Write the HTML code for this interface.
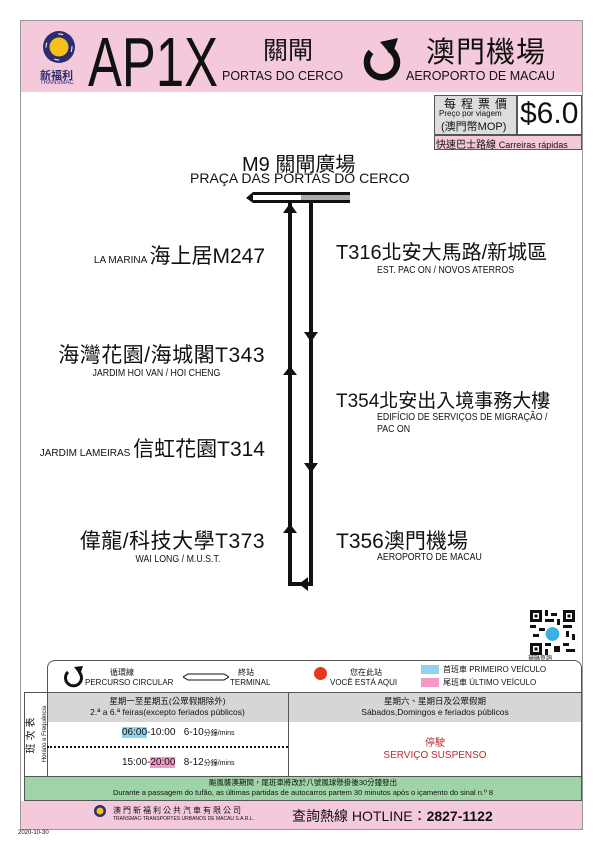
<!DOCTYPE html><html><head><meta charset="utf-8"><style>
body{margin:0;width:602px;height:852px;background:#fff;position:relative;overflow:hidden;font-family:"Liberation Sans","Noto Sans CJK TC",sans-serif;color:#111}
.a{position:absolute;white-space:nowrap}
.st{font-size:21px;line-height:24px}
.en{font-size:10px;line-height:11px;transform:scaleX(.88);transform-origin:left}
.enr{font-size:10px;line-height:11px;transform:scaleX(.88);transform-origin:right;text-align:right}
</style></head><body>
<div class="a" style="left:20px;top:20px;width:563px;height:810px;border:1px solid #999;box-sizing:border-box"></div>
<div class="a" style="left:21px;top:21px;width:561px;height:71px;background:#f5c9dc"></div>
<svg class="a" style="left:42px;top:30px" width="34" height="34"><circle cx="17" cy="17" r="16" fill="#2b2d6e"/><circle cx="17" cy="17" r="9.5" fill="#f5c01a"/><circle cx="17" cy="17" r="13" fill="none" stroke="#fff" stroke-width="1" stroke-dasharray="5 15"/></svg>
<div class="a" style="left:40px;top:67px;font-size:11px;font-weight:bold;color:#2b2d6e">新福利</div>
<div class="a" style="left:40px;top:80px;font-size:6px;color:#2b2d6e">TRANSMAC</div>
<svg class="a" style="left:80px;top:22px" width="150" height="70"><text x="8" y="64" font-family="Liberation Sans, Arial, sans-serif" font-size="70" textLength="130" lengthAdjust="spacingAndGlyphs" fill="#111">AP1X</text></svg>
<div class="a" style="left:263px;top:31px;font-size:25px">關閘</div>
<div class="a" style="left:222px;top:69px;font-size:12.5px">PORTAS DO CERCO</div>
<svg class="a" style="left:358px;top:34px" width="46" height="52"><path d="M31 15 A15 15 0 1 1 13 18" fill="none" stroke="#111" stroke-width="6.5"/><path d="M22 8 L40 4 L34 22 Z" fill="#111"/></svg>
<div class="a" style="left:426px;top:29px;font-size:29px;letter-spacing:1px">澳門機場</div>
<div class="a" style="left:406px;top:69px;font-size:12.5px">AEROPORTO DE MACAU</div>
<div class="a" style="left:434px;top:95px;width:83px;height:40px;background:#ddd;border:1px solid #555;box-sizing:border-box"></div>
<div class="a" style="left:444px;top:95px;font-size:12px;letter-spacing:5px">每程票價</div>
<div class="a" style="left:439px;top:109px;font-size:8px">Preço por viagem</div>
<div class="a" style="left:441px;top:118px;font-size:11px">(澳門幣MOP)</div>
<div class="a" style="left:517px;top:95px;width:65px;height:40px;border:1px solid #555;box-sizing:border-box"></div>
<div class="a" style="left:520px;top:97px;font-size:30px">$6.0</div>
<div class="a" style="left:434px;top:135px;width:148px;height:15px;background:#f5c9dc;border:1px solid #555;box-sizing:border-box"></div>
<div class="a" style="left:436px;top:136px;font-size:10px">快速巴士路線 <span style="font-size:9px">Carreiras rápidas</span></div>

<div class="a" style="left:242px;top:148px;font-size:20px">M9 關閘廣場</div>
<div class="a" style="left:190px;top:170px;font-size:14px">PRAÇA DAS PORTAS DO CERCO</div>

<svg class="a" style="left:0;top:0" width="602" height="852">
<path d="M246 198 L253 192 L350 192 L350 203 L253 203 Z" fill="#111"/>
<rect x="253" y="195" width="48" height="5" fill="#fff"/><rect x="301" y="195" width="49" height="5" fill="#aaa"/>
<g fill="none" stroke="#111" stroke-width="4"><path d="M290 203 V584 H311 V203"/></g>
<g fill="#111">
<path d="M283 213 L290 203 L297 213 Z"/><path d="M283 375 L290 366 L297 375 Z"/><path d="M283 533 L290 524 L297 533 Z"/>
<path d="M304 332 L311 342 L318 332 Z"/><path d="M304 463 L311 473 L318 463 Z"/>
<path d="M308 577 L299 584 L308 591 Z"/>
</g></svg>

<div class="a st" style="right:337px;top:245px"><span style="font-size:10px">LA MARINA </span>海上居M247</div>
<div class="a st" style="left:336px;top:241px;font-size:20px">T316北安大馬路/新城區</div>
<div class="a en" style="left:377px;top:265px">EST. PAC ON / NOVOS ATERROS</div>
<div class="a st" style="right:337px;top:344px;letter-spacing:.5px">海灣花園/海城閣T343</div>
<div class="a enr" style="right:382px;top:368px">JARDIM HOI VAN / HOI CHENG</div>
<div class="a st" style="left:336px;top:390px;font-size:19px">T354北安出入境事務大樓</div>
<div class="a en" style="left:377px;top:412px;line-height:12px">EDIFÍCIO DE SERVIÇOS DE MIGRAÇÃO /<br>PAC ON</div>
<div class="a st" style="right:337px;top:438px"><span style="font-size:10px">JARDIM LAMEIRAS </span>信虹花園T314</div>
<div class="a st" style="right:337px;top:530px;letter-spacing:.5px">偉龍/科技大學T373</div>
<div class="a enr" style="right:382px;top:554px">WAI LONG / M.U.S.T.</div>
<div class="a st" style="left:336px;top:530px">T356澳門機場</div>
<div class="a en" style="left:377px;top:552px">AEROPORTO DE MACAU</div>

<svg class="a" style="left:530px;top:610px" width="45" height="45" viewBox="0 0 15 15"><rect width="15" height="15" fill="#fff"/><g fill="#111"><path d="M0 0h4v4h-4zM11 0h4v4h-4zM0 11h4v4h-4zM5 0h1v2h-1zM7 1h2v1h-2zM5 3h3v1h-3zM9 3h1v2h-1zM0 5h2v1h-2zM3 6h2v1h-2zM11 5h3v1h-3zM12 7h1v2h-1zM14 8h1v2h-1zM5 11h2v1h-2zM8 12h2v2h-2zM11 11h2v1h-2zM12 13h3v1h-3zM5 13h1v2h-1zM1 8h2v1h-2zM6 8h1v1h-1z"/></g><path d="M1 1h2v2h-2zM12 1h2v2h-2zM1 12h2v2h-2z" fill="#fff"/><path d="M1.5 1.5h1v1h-1zM12.5 1.5h1v1h-1zM1.5 12.5h1v1h-1z" fill="#111"/><circle cx="7.5" cy="8" r="2.3" fill="#3ab0e0"/></svg>
<div class="a" style="left:528px;top:653px;font-size:6px">掃碼查詢</div>

<div class="a" style="left:47px;top:660px;width:535px;height:40px;border:1px solid #555;border-bottom:none;border-radius:8px 8px 0 0;box-sizing:border-box"></div>
<svg class="a" style="left:62px;top:664px" width="24" height="26"><path d="M17 8 A8 8 0 1 1 6 8" fill="none" stroke="#111" stroke-width="3"/><path d="M12 3 L21 2 L18 11Z" fill="#111"/></svg>
<div class="a" style="left:110px;top:667px;font-size:8px">循環線</div>
<div class="a" style="left:85px;top:678px;font-size:8px">PERCURSO CIRCULAR</div>
<svg class="a" style="left:183px;top:673px" width="46" height="8"><path d="M0 4 L5 1 H41 L46 4 L41 7 H5 Z" fill="#fff" stroke="#111"/></svg>
<div class="a" style="left:238px;top:667px;font-size:8px">終站</div>
<div class="a" style="left:230px;top:678px;font-size:8px">TERMINAL</div>
<div class="a" style="left:314px;top:667px;width:13px;height:13px;border-radius:50%;background:#e5391f"></div>
<div class="a" style="left:350px;top:667px;font-size:8px">您在此站</div>
<div class="a" style="left:330px;top:678px;font-size:8px">VOCÊ ESTÁ AQUI</div>
<div class="a" style="left:421px;top:665px;width:18px;height:9px;background:#8fd3ef"></div>
<div class="a" style="left:443px;top:664px;font-size:8px">首班車 PRIMEIRO VEÍCULO</div>
<div class="a" style="left:421px;top:678px;width:18px;height:9px;background:#f19ac5"></div>
<div class="a" style="left:443px;top:677px;font-size:8px">尾班車 ÚLTIMO VEÍCULO</div>

<div class="a" style="left:24px;top:692px;width:558px;height:85px;border:1px solid #555;box-sizing:border-box"></div>
<div class="a" style="left:47px;top:693px;width:534px;height:29px;background:#d6d6d6"></div>
<div class="a" style="left:47px;top:692px;width:1px;height:85px;background:#555"></div>
<div class="a" style="left:288px;top:692px;width:1px;height:85px;background:#555"></div>
<div class="a" style="left:-5px;top:724px;width:80px;height:20px;transform:rotate(-90deg);text-align:center;line-height:10px"><span style="font-size:10px;letter-spacing:3px">班次表</span><br><span style="font-size:6px">Horário e Frequência</span></div>
<div class="a" style="left:47px;top:696px;width:241px;text-align:center;font-size:8.5px;line-height:11px">星期一至星期五(公眾假期除外)<br>2.ª a 6.ª feiras(excepto feriados públicos)</div>
<div class="a" style="left:289px;top:696px;width:292px;text-align:center;font-size:8.5px;line-height:11px">星期六、星期日及公眾假期<br>Sábados,Domingos e feriados públicos</div>
<div class="a" style="left:122px;top:727px;font-size:10px"><span style="background:#8fd3ef">06:00</span>-10:00 &nbsp; 6-10<span style="font-size:7px">分鐘/mins</span></div>
<div class="a" style="left:47px;top:746px;width:241px;border-top:2px dotted #111"></div>
<div class="a" style="left:122px;top:757px;font-size:10px">15:00-<span style="background:#f19ac5">20:00</span> &nbsp; 8-12<span style="font-size:7px">分鐘/mins</span></div>
<div class="a" style="left:289px;top:738px;width:292px;text-align:center;font-size:10px;color:#c0282d;line-height:12px">停駛<br>SERVIÇO SUSPENSO</div>
<div class="a" style="left:24px;top:777px;width:558px;height:24px;background:#9fd4a6;border:1px solid #555;border-top:none;box-sizing:border-box"></div>
<div class="a" style="left:24px;top:778px;width:558px;text-align:center;font-size:7.5px;line-height:10px">颱風襲澳期間，尾班車將改於八號風球懸掛後30分鐘發出<br>Durante a passagem do tufão, as últimas partidas de autocarros partem 30 minutos após o içamento do sinal n.º 8</div>
<div class="a" style="left:21px;top:801px;width:561px;height:28px;background:#f5c9dc"></div>
<svg class="a" style="left:94px;top:805px" width="12" height="12"><circle cx="6" cy="6" r="6" fill="#2b2d6e"/><circle cx="6" cy="6" r="3.5" fill="#f5c01a"/></svg>
<div class="a" style="left:113px;top:805px;font-size:8px;letter-spacing:2px">澳門新福利公共汽車有限公司</div>
<div class="a" style="left:113px;top:816px;font-size:5px">TRANSMAC-TRANSPORTES URBANOS DE MACAU S.A.R.L.</div>
<div class="a" style="left:292px;top:806px;font-size:14px">查詢熱線 HOTLINE：<b>2827-1122</b></div>
<div class="a" style="left:18px;top:830px;font-size:6px">2020-10-30</div>
</body></html>
